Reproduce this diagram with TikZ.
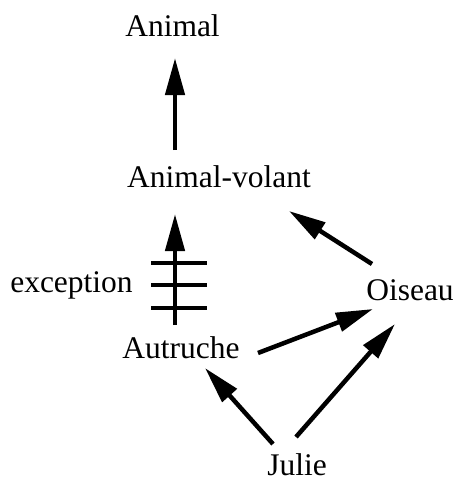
\documentclass[tikz,border=0pt]{standalone}
\usepackage{fontspec}
\setmainfont{Liberation Serif}
\usetikzlibrary{arrows.meta}
\begin{document}
\begin{tikzpicture}[x=1pt,y=-1pt,
  lbl/.style={anchor=base,inner sep=0pt,font=\fontsize{31.5}{38}\selectfont},
  arr/.style={line width=4.5pt,-{Triangle[length=37pt,width=19pt]}},
  hatch/.style={line width=3.5pt}]
\useasboundingbox (0,0) rectangle (458,483);
\node[lbl] (animal) at (172.5,36) {Animal};
\node[lbl] (volant) at (219,187) {Animal-volant};
\node[lbl] (exc) at (71.5,292) {exception};
\node[lbl] (autruche) at (181,358) {Autruche};
\node[lbl] (oiseau) at (410,300) {Oiseau};
\node[lbl] (julie) at (297,475) {Julie};
% connectors
\draw[arr] ([shift={(-44,-37)}]volant.base) -- ([shift={(2.5,22)}]animal.base);
\draw[arr] ([shift={(-6,-33)}]autruche.base) -- ([shift={(-44,27)}]volant.base);
\draw[hatch] (151,263) -- (207,263);
\draw[hatch] (151,285) -- (207,285);
\draw[hatch] (151,308) -- (207,308);
\draw[arr] ([shift={(-38,-36)}]oiseau.base) -- ([shift={(70,24)}]volant.base);
\draw[arr] ([shift={(77,-5)}]autruche.base) -- ([shift={(-37,9)}]oiseau.base);
\draw[arr] ([shift={(-1,-38)}]julie.base) -- ([shift={(-15,24)}]oiseau.base);
\draw[arr] ([shift={(-24,-31)}]julie.base) -- ([shift={(24,10)}]autruche.base);
\end{tikzpicture}
\end{document}
